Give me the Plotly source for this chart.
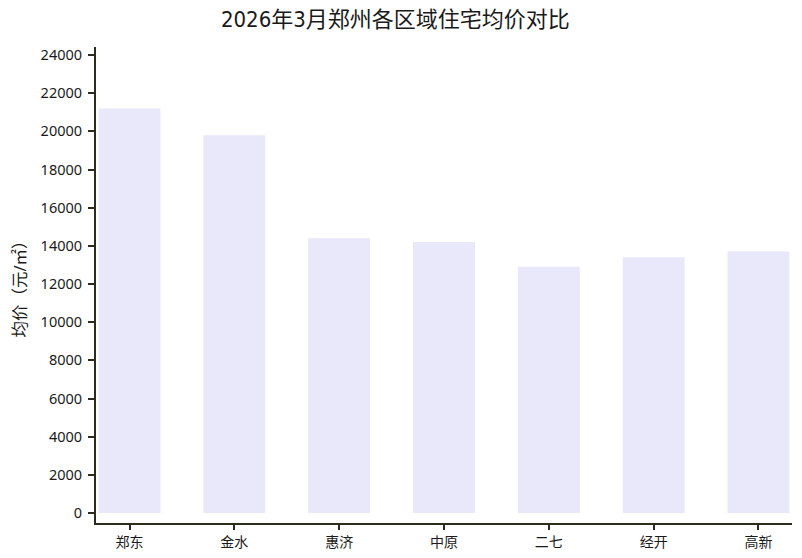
import plotly.graph_objects as go

districts = ["郑东", "金水", "惠济", "中原", "二七", "经开", "高新"]
prices = [21200, 19800, 14400, 14200, 12900, 13400, 13700]
y_ticks = list(range(0, 24001, 2000))

fig = go.Figure(go.Bar(x=districts, y=prices, marker_color="#E8E8FA",
                       marker_line_width=0, width=0.59))

axis_color = "#2b2b1e"
fig.update_layout(
    width=802, height=558,
    margin=dict(l=88, r=18, t=39, b=43, autoexpand=False),
    paper_bgcolor="white", plot_bgcolor="white",
    font=dict(family="Noto Sans, Noto Sans CJK SC", color="#1a1a1a", size=14),
    title=dict(text="2026年3月郑州各区域住宅均价对比", x=0.483, xanchor="center",
               y=0.98, yanchor="middle",
               font=dict(size=22, family="DejaVu Sans Condensed, Noto Sans CJK SC", color="#1a1a1a")),
    showlegend=False,
)
fig.update_xaxes(range=[-0.32, 6.32], showline=True, linecolor=axis_color, linewidth=2,
                 ticks="outside", ticklen=5, tickcolor=axis_color, tickwidth=2,
                 showgrid=False, tickfont=dict(size=14), automargin=False)
fig.update_yaxes(range=[-524, 24420], tickvals=y_ticks, tickformat="d", showline=True,
                 linecolor=axis_color, linewidth=2, ticks="outside", ticklen=6,
                 tickcolor=axis_color, tickwidth=2, automargin=False, ticklabelstandoff=3,
                 showgrid=False, zeroline=False, tickfont=dict(size=14.5),
                 title=dict(text="均价（元/㎡）", font=dict(size=16.5), standoff=18))

fig.write_html("out.html")
